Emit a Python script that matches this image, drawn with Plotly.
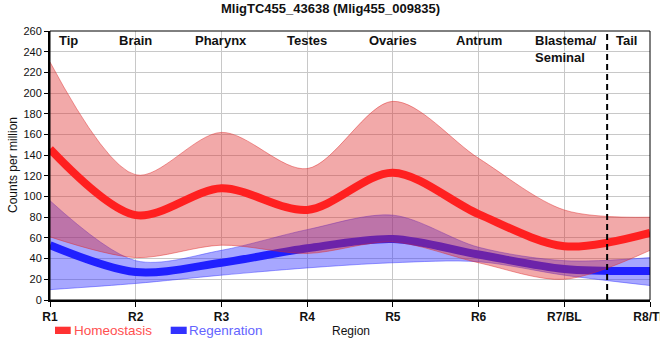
import plotly.graph_objects as go

# ---- data ----
regions = ["R1", "R2", "R3", "R4", "R5", "R6", "R7/BL", "R8/TL"]
homeo_mean = [146, 82, 108, 87, 123, 83, 52, 65]
homeo_upper = [230, 121, 162, 127, 192, 137, 87, 80]
homeo_lower = [61, 41, 53, 45, 56, 36, 20, 48]
regen_mean = [53, 27, 36, 50, 59, 44, 30, 28]
regen_upper = [96, 38, 48, 68, 82, 51, 38, 41]
regen_lower = [10, 16, 24, 31, 36, 37, 24, 14]
tissue_labels = ["Tip", "Brain", "Pharynx", "Testes", "Ovaries", "Antrum"]
tissue_pos = [0.22, 1, 2, 3, 4, 5]
title_text = "MligTC455_43638 (Mlig455_009835)"

FONT = "Liberation Sans, Arial, sans-serif"
RED_LINE = "rgb(255,32,32)"
BLUE_LINE = "rgb(32,32,255)"
RED_FILL = "rgba(222,40,40,0.40)"
RED_EDGE = "rgba(222,40,40,0.45)"
BLUE_FILL = "rgba(50,50,255,0.43)"
BLUE_EDGE = "rgba(50,50,255,0.45)"

fig = go.Figure()
sp = dict(shape="spline", smoothing=0.9)

# Regeneration band + line
fig.add_trace(go.Scatter(x=regions, y=regen_lower, mode="lines",
                         line=dict(color=BLUE_EDGE, width=1, **sp), showlegend=False, hoverinfo="skip"))
fig.add_trace(go.Scatter(x=regions, y=regen_upper, mode="lines", fill="tonexty", fillcolor=BLUE_FILL,
                         line=dict(color=BLUE_EDGE, width=1, **sp), showlegend=False, hoverinfo="skip"))
fig.add_trace(go.Scatter(x=regions, y=regen_mean, mode="lines", name="Regenration",
                         line=dict(color=BLUE_LINE, width=8, **sp), showlegend=False))
# Homeostasis band + line
fig.add_trace(go.Scatter(x=regions, y=homeo_lower, mode="lines",
                         line=dict(color=RED_EDGE, width=1, **sp), showlegend=False, hoverinfo="skip"))
fig.add_trace(go.Scatter(x=regions, y=homeo_upper, mode="lines", fill="tonexty", fillcolor=RED_FILL,
                         line=dict(color=RED_EDGE, width=1, **sp), showlegend=False, hoverinfo="skip"))
fig.add_trace(go.Scatter(x=regions, y=homeo_mean, mode="lines", name="Homeostasis",
                         line=dict(color=RED_LINE, width=8, **sp), showlegend=False))

# target plot area in screenshot pixels
L, T, PW, PH = 50, 31, 600, 269
FW, FH = 660, 360


def px(xp):
    return (xp - L) / PW


def py(yp):
    return (T + PH - yp) / PH


annotations = []
for lab, pos in zip(tissue_labels, tissue_pos):
    annotations.append(dict(x=pos, y=py(40), xref="x", yref="paper", text="<b>%s</b>" % lab,
                            showarrow=False, xanchor="center", yanchor="middle",
                            font=dict(family=FONT, size=13, color="#111")))
annotations.append(dict(x=5.63, y=py(31), xref="x", yref="paper", text="<b>Blastema/<br>Seminal</b>",
                        showarrow=False, xanchor="left", yanchor="top", align="left",
                        font=dict(family=FONT, size=13, color="#111")))
annotations.append(dict(x=6.72, y=py(40), xref="x", yref="paper", text="<b>Tail</b>",
                        showarrow=False, xanchor="center", yanchor="middle",
                        font=dict(family=FONT, size=13, color="#111")))
# title
annotations.append(dict(x=px(330), y=py(8), xref="paper", yref="paper", text="<b>%s</b>" % title_text,
                        showarrow=False, xanchor="center", yanchor="middle",
                        font=dict(family=FONT, size=13, color="#111")))
# axis titles / legend
annotations.append(dict(x=px(13), y=py(165), xref="paper", yref="paper", text="Counts per million",
                        textangle=-90, showarrow=False, xanchor="center", yanchor="middle",
                        font=dict(family=FONT, size=12, color="#111")))
annotations.append(dict(x=px(351), y=py(331), xref="paper", yref="paper", text="Region",
                        showarrow=False, xanchor="center", yanchor="middle",
                        font=dict(family=FONT, size=12, color="#111")))
annotations.append(dict(x=px(74), y=py(330), xref="paper", yref="paper", text="Homeostasis",
                        showarrow=False, xanchor="left", yanchor="middle", xshift=-2,
                        font=dict(family=FONT, size=13.5, color="rgb(255,80,80)")))
annotations.append(dict(x=px(189), y=py(330), xref="paper", yref="paper", text="Regenration",
                        showarrow=False, xanchor="left", yanchor="middle", xshift=-2,
                        font=dict(family=FONT, size=13.5, color="rgb(100,100,255)")))

shapes = [
    dict(type="rect", xref="paper", yref="paper", x0=px(55), x1=px(70.7), y0=py(334), y1=py(326.7),
         fillcolor="rgb(255,50,50)", line=dict(width=0)),
    dict(type="rect", xref="paper", yref="paper", x0=px(170.7), x1=px(186.7), y0=py(334), y1=py(326.7),
         fillcolor="rgb(50,50,255)", line=dict(width=0)),
    dict(type="line", xref="x", yref="paper", x0=6.5, x1=6.5, y0=0, y1=1,
         line=dict(color="black", width=2, dash="6px,4px")),
    dict(type="rect", xref="paper", yref="paper", x0=0, x1=1, y0=0, y1=1,
         line=dict(color="black", width=1), layer="above"),
]

fig.update_layout(
    width=FW, height=FH,
    margin=dict(l=L, r=FW - L - PW, t=T, b=FH - T - PH),
    paper_bgcolor="white", plot_bgcolor="white",
    font=dict(family=FONT, color="#111"),
    showlegend=False,
    annotations=annotations,
    shapes=shapes,
    xaxis=dict(type="category", range=[0, 7], showgrid=True, gridcolor="#c8c8c8", gridwidth=1,
               showline=True, linecolor="black", linewidth=2, ticks="outside", ticklen=5,
               tickcolor="black", tickwidth=1, automargin=False, zeroline=False,
               tickfont=dict(family=FONT, size=12, color="#111"),
               tickvals=regions, ticktext=["<b>%s</b>" % r for r in regions]),
    yaxis=dict(range=[0, 260], dtick=20, showgrid=True, gridcolor="#c8c8c8", gridwidth=1,
               showline=True, linecolor="black", linewidth=2, ticks="outside", ticklen=4,
               tickcolor="black", tickwidth=1, automargin=False, zeroline=False,
               tickfont=dict(family=FONT, size=11, color="#111")),
)

fig.write_html("out.html", config={"displayModeBar": False},
               post_script="document.body.style.margin='0';")
